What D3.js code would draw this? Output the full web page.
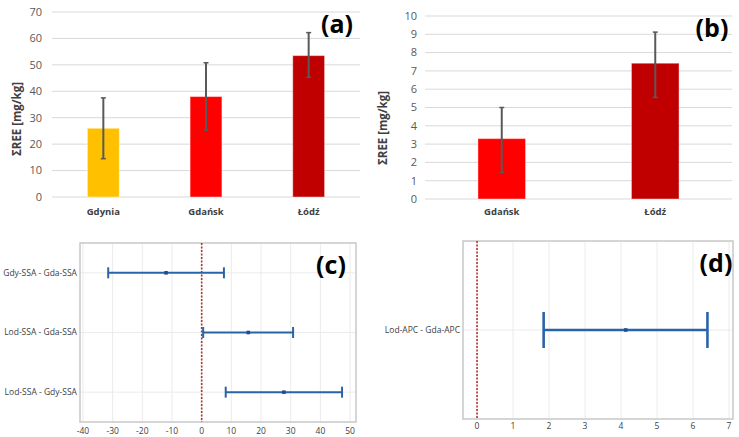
<!DOCTYPE html>
<html>
<head>
<meta charset="utf-8">
<script src="https://cdn.jsdelivr.net/npm/d3@7"></script>
<style>
  body { margin: 0; background: #fff; }
  text { font-family: "Open Sans", sans-serif; }
</style>
</head>
<body>
<div class="graphic"></div>
<script>
// panel (a)
const citiesA = ["Gdynia", "Gdańsk", "Łódź"];
const reeA = [26, 38, 53.5];
const lowA = [14.5, 25.3, 45.3];
const highA = [37.5, 50.8, 62.2];
const colorsA = ["#FFC000", "#FF0000", "#C00000"];
const ticksA = [0, 10, 20, 30, 40, 50, 60, 70];

// panel (b)
const citiesB = ["Gdańsk", "Łódź"];
const reeB = [3.3, 7.42];
const lowB = [1.45, 5.55];
const highB = [5.0, 9.12];
const colorsB = ["#FF0000", "#C00000"];
const ticksB = [0, 1, 2, 3, 4, 5, 6, 7, 8, 9, 10];

// panel (c)
const pairsC = ["Gdy-SSA - Gda-SSA", "Lod-SSA - Gda-SSA", "Lod-SSA - Gdy-SSA"];
const diffC = [-12, 15.7, 27.7];
const loC = [-31.5, 0.5, 8.1];
const hiC = [7.5, 30.8, 47.3];
const ticksC = [-40, -30, -20, -10, 0, 10, 20, 30, 40, 50];

// panel (d)
const pairsD = ["Lod-APC - Gda-APC"];
const diffD = [4.13];
const loD = [1.85];
const hiD = [6.4];
const ticksD = [0, 1, 2, 3, 4, 5, 6, 7];

var svg = d3.select(".graphic")
  .append("svg")
  .attr("width", 739)
  .attr("height", 437)
  .style("display", "block");

svg.append("rect").attr("width", 739).attr("height", 437).attr("fill", "#fff");

function barPanel(cats, vals, lo, hi, colors, ticks, xr, yr, labelX, titleX, titleY, tag, tagX, tagY) {
  var g = svg.append("g");
  var x = d3.scaleBand().domain(cats).range(xr);
  var y = d3.scaleLinear().domain([0, ticks[ticks.length - 1]]).range(yr);
  var bw = x.bandwidth() * 0.31;

  g.selectAll("line.grid")
    .data(ticks)
    .enter()
    .append("line")
    .attr("x1", xr[0]).attr("x2", xr[1])
    .attr("y1", d => y(d)).attr("y2", d => y(d))
    .attr("stroke", "#d9d9d9")
    .attr("stroke-width", 1);

  g.selectAll("text.tick")
    .data(ticks)
    .enter()
    .append("text")
    .attr("x", labelX)
    .attr("y", d => y(d))
    .attr("dy", "0.35em")
    .attr("text-anchor", "end")
    .attr("font-size", 11)
    .attr("fill", "#595959")
    .text(d => d);

  g.selectAll("rect.bar")
    .data(cats)
    .enter()
    .append("rect")
    .attr("x", d => x(d) + x.bandwidth() / 2 - bw / 2)
    .attr("width", bw)
    .attr("y", (d, i) => y(vals[i]))
    .attr("height", (d, i) => y(0) - y(vals[i]))
    .attr("fill", (d, i) => colors[i])
    .attr("stroke", "#ffffff")
    .attr("stroke-opacity", 0.4)
    .attr("stroke-width", 1);

  cats.forEach((c, i) => {
    var cx = x(c) + x.bandwidth() / 2;
    g.append("line")
      .attr("x1", cx).attr("x2", cx)
      .attr("y1", y(lo[i])).attr("y2", y(hi[i]))
      .attr("stroke", "#595959").attr("stroke-width", 2);
    [lo[i], hi[i]].forEach(v => {
      g.append("line")
        .attr("x1", cx - 2.5).attr("x2", cx + 2.5)
        .attr("y1", y(v)).attr("y2", y(v))
        .attr("stroke", "#595959").attr("stroke-width", 1.5);
    });
  });

  g.selectAll("text.cat")
    .data(cats)
    .enter()
    .append("text")
    .attr("x", d => x(d) + x.bandwidth() / 2)
    .attr("y", 215)
    .attr("text-anchor", "middle")
    .attr("font-size", 9.5)
    .attr("font-weight", "bold")
    .attr("fill", "#404040")
    .text(d => d);

  g.append("text")
    .attr("transform", "translate(" + titleX + "," + titleY + ") rotate(-90)")
    .attr("text-anchor", "middle")
    .attr("dy", "0.35em")
    .attr("font-size", 11.5)
    .attr("font-weight", "bold")
    .attr("fill", "#404040")
    .text("ΣREE [mg/kg]");

  g.append("text")
    .attr("x", tagX).attr("y", tagY)
    .attr("text-anchor", "middle")
    .attr("font-size", 25)
    .attr("font-weight", "bold")
    .attr("fill", "#000")
    .text(tag);
}

function ciPanel(pairs, diff, lo, hi, ticks, dom, xr, yr, labelY, capH, lw, tag, tagX, tagY) {
  var g = svg.append("g");
  var x = d3.scaleLinear().domain(dom).range(xr);
  var y = d3.scalePoint().domain(pairs).range(yr).padding(0.5);

  g.selectAll("line.vgrid")
    .data(ticks)
    .enter()
    .append("line")
    .attr("x1", d => x(d)).attr("x2", d => x(d))
    .attr("y1", yr[0]).attr("y2", yr[1])
    .attr("stroke", "#ebebeb");

  g.selectAll("line.hgrid")
    .data(pairs)
    .enter()
    .append("line")
    .attr("x1", xr[0]).attr("x2", xr[1])
    .attr("y1", d => y(d)).attr("y2", d => y(d))
    .attr("stroke", "#ebebeb");

  g.append("rect")
    .attr("x", xr[0]).attr("y", yr[0])
    .attr("width", xr[1] - xr[0]).attr("height", yr[1] - yr[0])
    .attr("fill", "none")
    .attr("stroke", "#c8c8c8")
    .attr("stroke-width", 1.5);

  g.append("line")
    .attr("x1", x(0)).attr("x2", x(0))
    .attr("y1", yr[0]).attr("y2", yr[1])
    .attr("stroke", "#b5332e")
    .attr("stroke-width", 1.6)
    .attr("stroke-dasharray", "2,1.5");

  pairs.forEach((p, i) => {
    var cy = y(p);
    g.append("line")
      .attr("x1", x(lo[i])).attr("x2", x(hi[i]))
      .attr("y1", cy).attr("y2", cy)
      .attr("stroke", "#2a64a8").attr("stroke-width", lw);
    [lo[i], hi[i]].forEach(v => {
      g.append("line")
        .attr("x1", x(v)).attr("x2", x(v))
        .attr("y1", cy - capH / 2).attr("y2", cy + capH / 2)
        .attr("stroke", "#2a64a8").attr("stroke-width", lw);
    });
    g.append("rect")
      .attr("x", x(diff[i]) - 1.8).attr("y", cy - 1.8)
      .attr("width", 3.6).attr("height", 3.6)
      .attr("fill", "#1f4f8f");
  });

  g.selectAll("text.pair")
    .data(pairs)
    .enter()
    .append("text")
    .attr("x", xr[0] - 3)
    .attr("y", d => y(d))
    .attr("dy", "0.35em")
    .attr("text-anchor", "end")
    .attr("font-size", 8.5)
    .attr("fill", "#404040")
    .text(d => d);

  g.selectAll("text.xt")
    .data(ticks)
    .enter()
    .append("text")
    .attr("x", d => x(d))
    .attr("y", labelY)
    .attr("dy", "0.35em")
    .attr("text-anchor", "middle")
    .attr("font-size", 8.5)
    .attr("fill", "#404040")
    .text(d => d);

  g.append("text")
    .attr("x", tagX).attr("y", tagY)
    .attr("text-anchor", "middle")
    .attr("font-size", 25)
    .attr("font-weight", "bold")
    .attr("fill", "#000")
    .text(tag);
}

barPanel(citiesA, reeA, lowA, highA, colorsA, ticksA, [52, 360], [197, 12], 42, 17, 119, "(a)", 337, 33);
barPanel(citiesB, reeB, lowB, highB, colorsB, ticksB, [425, 732], [199, 16], 417, 383, 128, "(b)", 712, 37);
ciPanel(pairsC, diffC, loC, hiC, ticksC, [-41, 52], [80, 356], [243, 422], 431, 11, 2, "(c)", 331, 274);
ciPanel(pairsD, diffD, loD, hiD, ticksD, [-0.39, 7.11], [463, 733], [241, 419], 426, 36, 2.6, "(d)", 716, 272);
</script>
</body>
</html>
